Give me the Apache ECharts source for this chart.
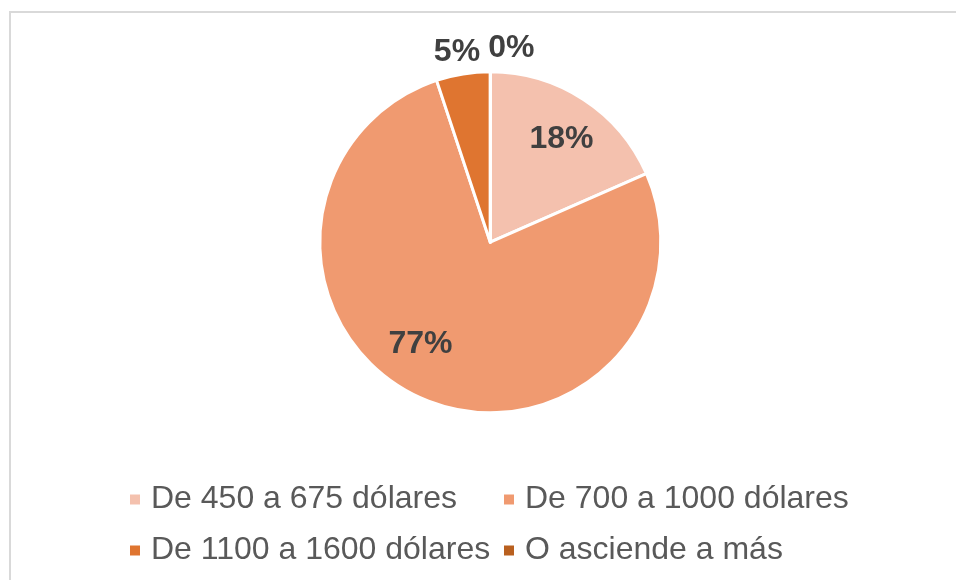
<!DOCTYPE html>
<html>
<head>
<meta charset="utf-8">
<script src="https://cdn.jsdelivr.net/npm/echarts@6/dist/echarts.min.js"></script>
<style>
  html, body { margin: 0; padding: 0; background: #ffffff; }
  #chart { width: 956px; height: 580px; }
</style>
</head>
<body>
<div id="chart"></div>
<script>
const categories = ['De 450 a 675 dólares', 'De 700 a 1000 dólares', 'De 1100 a 1600 dólares', 'O asciende a más'];
const values = [18.4, 76.5, 5.1, 0];
const colors = ['#F4C1AE', '#F09A70', '#DF7530', '#B9601F'];
const legendCol1 = [categories[0], categories[2]];
const legendCol2 = [categories[1], categories[3]];

const labelOffsets = [
  { dx: 23, dy: -29.5 },
  { dx: -34, dy: 21 },
  { dx: 17, dy: -22, align: 'right' },
  { dx: -2, dy: -23.7, align: 'left' }
];

const FONT = '"Liberation Sans", Arial, sans-serif';

const chart = echarts.init(document.getElementById('chart'), null, { renderer: 'canvas' });

const legendCommon = {
  orient: 'vertical',
  icon: 'rect',
  itemWidth: 12,
  itemHeight: 12,
  itemGap: 13,
  padding: 0,
  selectedMode: false,
  textStyle: {
    fontFamily: FONT,
    fontSize: 32,
    color: '#595959',
    lineHeight: 38,
    padding: [0, 0, 0, 5]
  }
};

chart.setOption({
  backgroundColor: '#ffffff',
  animation: false,
  graphic: [{
    type: 'rect',
    shape: { x: 10, y: 12, width: 1000, height: 1000 },
    style: { fill: 'none', stroke: '#D9D9D9', lineWidth: 2 },
    silent: true,
    z: -10
  }],
  legend: [
    Object.assign({}, legendCommon, { data: legendCol1, left: 128, top: 480.5 }),
    Object.assign({}, legendCommon, { data: legendCol2, left: 502, top: 480.5 })
  ],
  series: [{
    type: 'pie',
    center: [490.3, 242.2],
    radius: 170.5,
    startAngle: 90,
    clockwise: true,
    avoidLabelOverlap: false,
    percentPrecision: 0,
    minShowLabelAngle: 0,
    itemStyle: { borderColor: '#ffffff', borderWidth: 3 },
    emphasis: { disabled: true },
    label: {
      show: true,
      formatter: '{d}%',
      fontFamily: FONT,
      fontSize: 32,
      fontWeight: 'bold',
      color: '#404040',
      distanceToLabelLine: 0
    },
    labelLine: { show: false, length: 0, length2: 0 },
    labelLayout: function (params) {
      return labelOffsets[params.dataIndex];
    },
    data: categories.map(function (name, i) {
      return {
        name: name,
        value: values[i],
        itemStyle: { color: colors[i] },
        label: { position: i < 2 ? 'inside' : 'outside' }
      };
    })
  }]
});
</script>
</body>
</html>
